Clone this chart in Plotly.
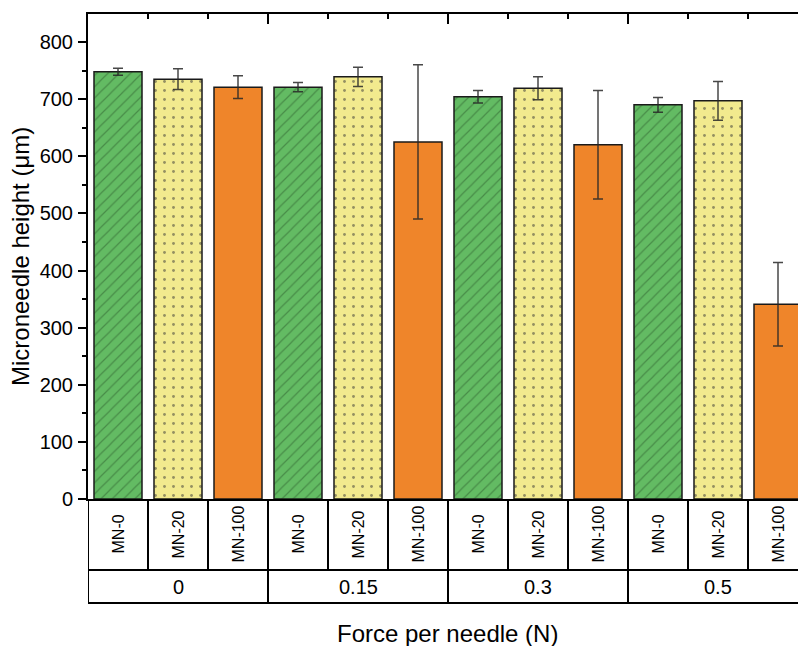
import plotly.graph_objects as go

forces = ["0", "0.15", "0.3", "0.5"]
materials = ["MN-0", "MN-20", "MN-100"]

mn0_vals = [748, 721, 704, 690]
mn0_err = [6, 8, 11, 13]
mn20_vals = [735, 739, 719, 697]
mn20_err = [18, 17, 20, 34]
mn100_vals = [721, 625, 620, 341]
mn100_err = [20, 135, 95, 73]

series = [
    (mn0_vals, mn0_err, dict(shape="/", bgcolor="#63BB63", fgcolor="#2E5E2E", size=8, solidity=0.15), "#63BB63"),
    (mn20_vals, mn20_err, dict(shape=".", bgcolor="#F2EA8E", fgcolor="#333333", size=9, solidity=0.08), "#F2EA8E"),
    (mn100_vals, mn100_err, None, "#EF852A"),
]

n_mat = len(materials)
n_cat = len(forces) * n_mat

W, H = 798, 646
ml, mr, mt, mb = 88, 0, 14, 147
plot_w = W - ml - mr
plot_h = H - mt - mb
cat_px = 60.0
x_end = -0.5 + plot_w / cat_px

fig = go.Figure()
for j, (vals, errs, pat, col) in enumerate(series):
    xs = [g * n_mat + j for g in range(len(forces))]
    marker = dict(color=col, line=dict(color="#1a1a1a", width=1.5))
    if pat:
        marker["pattern"] = dict(fillmode="overlay", **pat)
    fig.add_trace(go.Bar(
        x=xs, y=vals, width=0.8, marker=marker, name=materials[j],
        error_y=dict(type="data", array=errs, visible=True, color="rgba(40,40,40,0.85)",
                     thickness=1.5, width=5),
        showlegend=False,
    ))

def py(pix):
    return (mt + plot_h - pix) / plot_h

def px(pix):
    return (pix - ml) / plot_w

row1 = py(570)
row2 = py(603)

shapes = []
line = dict(color="black", width=2)
for i in range(n_cat + 1):
    b = i - 0.5
    if b > x_end:
        continue
    y1 = row2 if i % n_mat == 0 else row1
    shapes.append(dict(type="line", xref="x", yref="paper", x0=b, x1=b, y0=0, y1=y1, line=line))
for yy in (row1, row2):
    shapes.append(dict(type="line", xref="paper", yref="paper", x0=0, x1=1, y0=yy, y1=yy, line=line))

annotations = []
font = "Arial, Liberation Sans, sans-serif"
for g in range(len(forces)):
    for j, m in enumerate(materials):
        annotations.append(dict(x=g * n_mat + j, y=(0 + row1) / 2, xref="x", yref="paper",
                                text=m, textangle=-90, showarrow=False,
                                xanchor="center", yanchor="middle",
                                font=dict(size=16, color="black", family=font)))
    annotations.append(dict(x=g * n_mat + 1, y=(row1 + row2) / 2, xref="x", yref="paper",
                            text=forces[g], showarrow=False, xanchor="center", yanchor="middle",
                            font=dict(size=20, color="black", family=font)))
annotations.append(dict(x=px(447), y=py(633), xref="paper", yref="paper",
                        text="Force per needle (N)", showarrow=False,
                        xanchor="center", yanchor="middle",
                        font=dict(size=24, color="black", family=font)))
annotations.append(dict(x=px(20), y=py(257), xref="paper", yref="paper",
                        text="Microneedle height (μm)", showarrow=False, textangle=-90,
                        xanchor="center", yanchor="middle",
                        font=dict(size=24, color="black", family=font)))

major_b = [g * n_mat - 0.5 for g in range(1, len(forces))]
minor_b = [i - 0.5 for i in range(1, n_cat) if i % n_mat != 0]

fig.update_layout(
    width=W, height=H,
    margin=dict(l=ml, r=mr, t=mt, b=mb, autoexpand=False),
    paper_bgcolor="white", plot_bgcolor="white",
    barmode="overlay",
    font=dict(family=font, color="black"),
    shapes=shapes, annotations=annotations,
    xaxis=dict(range=[-0.5, x_end], showline=True, linecolor="black", linewidth=2,
               showticklabels=False, ticks="", showgrid=False, zeroline=False, automargin=False),
    xaxis2=dict(range=[-0.5, x_end], overlaying="x", side="top", showline=True,
                linecolor="black", linewidth=2, showticklabels=False, automargin=False,
                tickmode="array", tickvals=major_b, ticks="inside", ticklen=10,
                tickwidth=2, tickcolor="black", showgrid=False, zeroline=False,
                minor=dict(tickmode="array", tickvals=minor_b, ticks="inside", ticklen=5,
                           tickwidth=2, tickcolor="black", showgrid=False)),
    yaxis=dict(range=[0, (plot_h) / 0.57125], showline=True, linecolor="black", linewidth=2,
               automargin=False,
               tickmode="linear", tick0=0, dtick=100, ticks="outside", ticklen=8,
               tickwidth=2, tickcolor="black", showgrid=False, zeroline=False,
               ticklabelstandoff=1,
               tickfont=dict(size=20, color="black", family=font),
               minor=dict(dtick=50, ticks="outside", ticklen=4, tickwidth=2, tickcolor="black")),
)
fig.add_trace(go.Scatter(x=[0], y=[0], xaxis="x2", mode="markers", marker=dict(opacity=0),
                         showlegend=False, hoverinfo="skip"))

fig.write_html("out.html", config={"displayModeBar": False},
               post_script="document.body.style.margin='0';document.body.style.overflow='hidden';")
